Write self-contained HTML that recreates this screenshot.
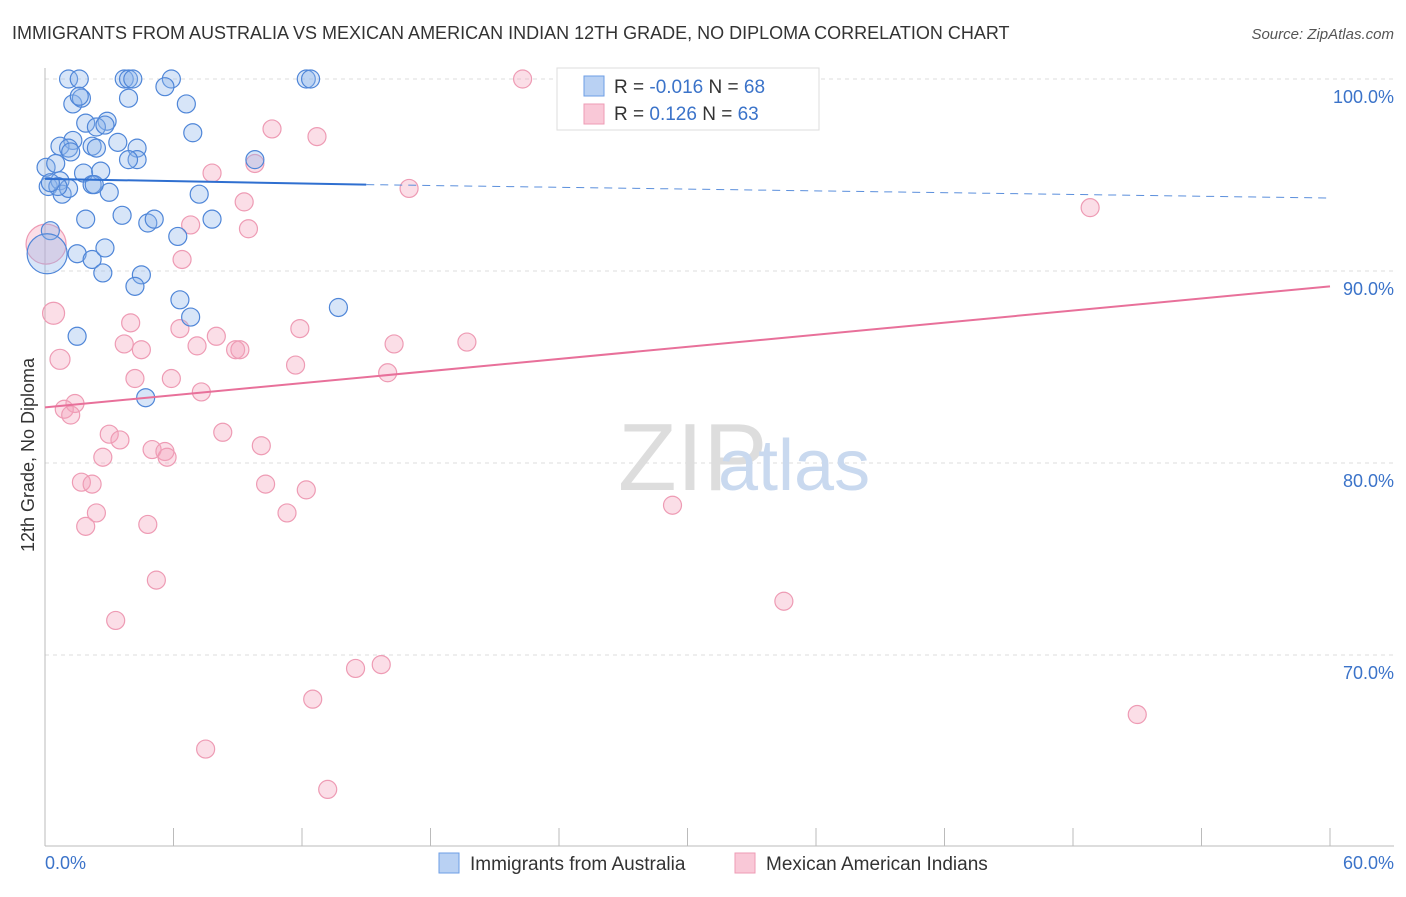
<!DOCTYPE html>
<html><head><meta charset="utf-8"><style>
body{margin:0;background:#fff;font-family:"Liberation Sans",sans-serif;}
svg text{font-family:"Liberation Sans",sans-serif;}
</style></head><body>
<svg id="c" width="1406" height="892">
<text x="12" y="39" font-size="18" fill="#333">IMMIGRANTS FROM AUSTRALIA VS MEXICAN AMERICAN INDIAN 12TH GRADE, NO DIPLOMA CORRELATION CHART</text>
<text x="1394" y="39" font-size="15" fill="#555" font-style="italic" text-anchor="end">Source: ZipAtlas.com</text>
<g id="grid"></g>
<line x1="45" y1="68" x2="45" y2="846" stroke="#bbb"/>
<line x1="45" y1="846" x2="1394" y2="846" stroke="#bbb"/>
<text x="618" y="490" font-size="96" fill="#ddd" font-family="Liberation Serif">ZIP</text>
<text x="718" y="490" font-size="72" fill="#c9d9ef">atlas</text>
<g id="pts"></g>
<g id="lines"></g>
<text x="34" y="455" font-size="18" fill="#333" transform="rotate(-90 34 455)" text-anchor="middle">12th Grade, No Diploma</text>
<text x="45" y="869" font-size="18" fill="#3b73c9">0.0%</text>
<text x="1394" y="869" font-size="18" fill="#3b73c9" text-anchor="end">60.0%</text>
<g>
<rect x="557" y="68" width="262" height="62" fill="#fff" stroke="#ddd"/>
<rect x="584" y="76" width="20" height="20" fill="#b9d1f3" stroke="#6d9ee6"/>
<rect x="584" y="104" width="20" height="20" fill="#f9c8d7" stroke="#ee9bb4"/>
<text x="614" y="93" font-size="19" fill="#333">R = <tspan fill="#3b73c9">-0.016</tspan>   N = <tspan fill="#3b73c9">68</tspan></text>
<text x="614" y="120" font-size="19" fill="#333">R =   <tspan fill="#3b73c9">0.126</tspan>   N = <tspan fill="#3b73c9">63</tspan></text>
</g>
<g>
<rect x="439" y="853" width="20" height="20" fill="#b9d1f3" stroke="#6d9ee6"/>
<text x="470" y="870" font-size="19" fill="#333">Immigrants from Australia</text>
<rect x="735" y="853" width="20" height="20" fill="#f9c8d7" stroke="#ee9bb4"/>
<text x="766" y="870" font-size="19" fill="#333">Mexican American Indians</text>
</g>
</svg>
<script>
const yTicks=[100,90,80,70];
const yTickLabels=["100.0%","90.0%","80.0%","70.0%"];
const blueX=[1.1,1.6,3.7,3.9,4.1,5.9,12.2,12.4,5.6,1.3,1.7,1.6,6.6,6.9,2.9,1.9,2.4,2.8,1.3,3.4,0.7,1.1,2.2,2.4,4.3,4.3,3.9,1.2,9.8,0.05,0.5,0.15,0.7,0.8,1.8,2.6,2.2,3.0,1.1,0.6,2.3,0.25,7.2,3.6,1.9,4.8,5.1,7.8,6.2,0.25,0.1,1.5,2.2,2.7,4.5,4.2,6.3,6.8,13.7,1.5,4.7,2.8,3.9];
const blueY=[100,100,100,100,100,100,100,100,99.6,98.7,99.0,99.1,98.7,97.2,97.8,97.7,97.5,97.6,96.8,96.7,96.5,96.4,96.5,96.4,96.4,95.8,95.8,96.2,95.8,95.4,95.6,94.4,94.7,94.0,95.1,95.2,94.5,94.1,94.3,94.4,94.5,94.6,94.0,92.9,92.7,92.5,92.7,92.7,91.8,92.1,90.9,90.9,90.6,89.9,89.8,89.2,88.5,87.6,88.1,86.6,83.4,91.2,99.0];
const blueR=[9,9,9,9,9,9,9,9,9,9,9,9,9,9,9,9,9,9,9,9,9,9,9,9,9,9,9,9,9,9,9,9,9,9,9,9,9,9,9,9,9,9,9,9,9,9,9,9,9,9,20,9,9,9,9,9,9,9,9,9,9,9,9];
const pinkX=[0.05,0.4,0.7,22.3,26.3,28.6,32.9,10.6,12.7,7.8,9.8,17.0,9.3,9.5,6.8,6.4,48.8,4.0,6.3,11.9,8.0,3.7,4.5,7.1,8.9,9.1,16.3,19.7,11.7,16.0,4.2,5.9,7.3,1.4,0.9,1.2,3.0,3.5,8.3,10.1,5.0,5.6,5.7,2.7,1.7,2.2,10.3,12.2,11.3,2.4,1.9,4.8,29.3,5.2,3.3,34.5,14.5,15.7,12.5,7.5,13.2,51.0];
const pinkY=[91.4,87.8,85.4,100,100,100,100,97.4,97.0,95.1,95.6,94.3,93.6,92.2,92.4,90.6,93.3,87.3,87.0,87.0,86.6,86.2,85.9,86.1,85.9,85.9,86.2,86.3,85.1,84.7,84.4,84.4,83.7,83.1,82.8,82.5,81.5,81.2,81.6,80.9,80.7,80.6,80.3,80.3,79.0,78.9,78.9,78.6,77.4,77.4,76.7,76.8,77.8,73.9,71.8,72.8,69.3,69.5,67.7,65.1,63.0,66.9];
const pinkR=[20,11,10,9,9,9,9,9,9,9,9,9,9,9,9,9,9,9,9,9,9,9,9,9,9,9,9,9,9,9,9,9,9,9,9,9,9,9,9,9,9,9,9,9,9,9,9,9,9,9,9,9,9,9,9,9,9,9,9,9,9,9];
const blueTrend=[[0,94.8],[15,94.5],[60,93.8]];
const pinkTrend=[[0,82.9],[60,89.2]];
const NS="http://www.w3.org/2000/svg";
const sx=v=>45+v/60*1285;
const sy=v=>79+(100-v)*19.2;
function mk(t,a,p){const e=document.createElementNS(NS,t);for(const k in a)e.setAttribute(k,a[k]);p.appendChild(e);return e;}
const grid=document.getElementById('grid');
yTicks.forEach((t,i)=>{
 const l=mk('line',{x1:45,x2:1394,y1:sy(t),y2:sy(t),stroke:'#ddd','stroke-dasharray':'4,4'},grid);
 
 
 const tx=mk('text',{x:1394,y:sy(t)+24,'font-size':18,fill:'#3b73c9','text-anchor':'end'},grid);
 tx.textContent=yTickLabels[i];
 
 
});
for(let i=0;i<=10;i++){
 const x=45+i*128.5;
 const l=mk('line',{x1:x,x2:x,y1:828,y2:846,stroke:'#bbb'},grid);
 
 
}
const pts=document.getElementById('pts');
pinkX.forEach((x,i)=>{
 const c=mk('circle',{cx:sx(x),cy:sy(pinkY[i]),r:pinkR[i],fill:'rgba(244,160,186,0.35)',stroke:'#ee9bb4','stroke-width':1.2},pts);
 
 
});
blueX.forEach((x,i)=>{
 const c=mk('circle',{cx:sx(x),cy:sy(blueY[i]),r:blueR[i],fill:'rgba(140,180,235,0.35)',stroke:'#4f86d8','stroke-width':1.2},pts);
 
 
});
const lines=document.getElementById('lines');
const b1=mk('line',{x1:sx(blueTrend[0][0]),y1:sy(blueTrend[0][1]),x2:sx(blueTrend[1][0]),y2:sy(blueTrend[1][1]),stroke:'#2f6fd0','stroke-width':2},lines);


const b2=mk('line',{x1:sx(blueTrend[1][0]),y1:sy(blueTrend[1][1]),x2:sx(blueTrend[2][0]),y2:sy(blueTrend[2][1]),stroke:'#5b8fdc','stroke-width':1,'stroke-dasharray':'8,6'},lines);


const p1=mk('line',{x1:sx(pinkTrend[0][0]),y1:sy(pinkTrend[0][1]),x2:sx(pinkTrend[1][0]),y2:sy(pinkTrend[1][1]),stroke:'#e8709a','stroke-width':2},lines);


</script>
</body></html>
